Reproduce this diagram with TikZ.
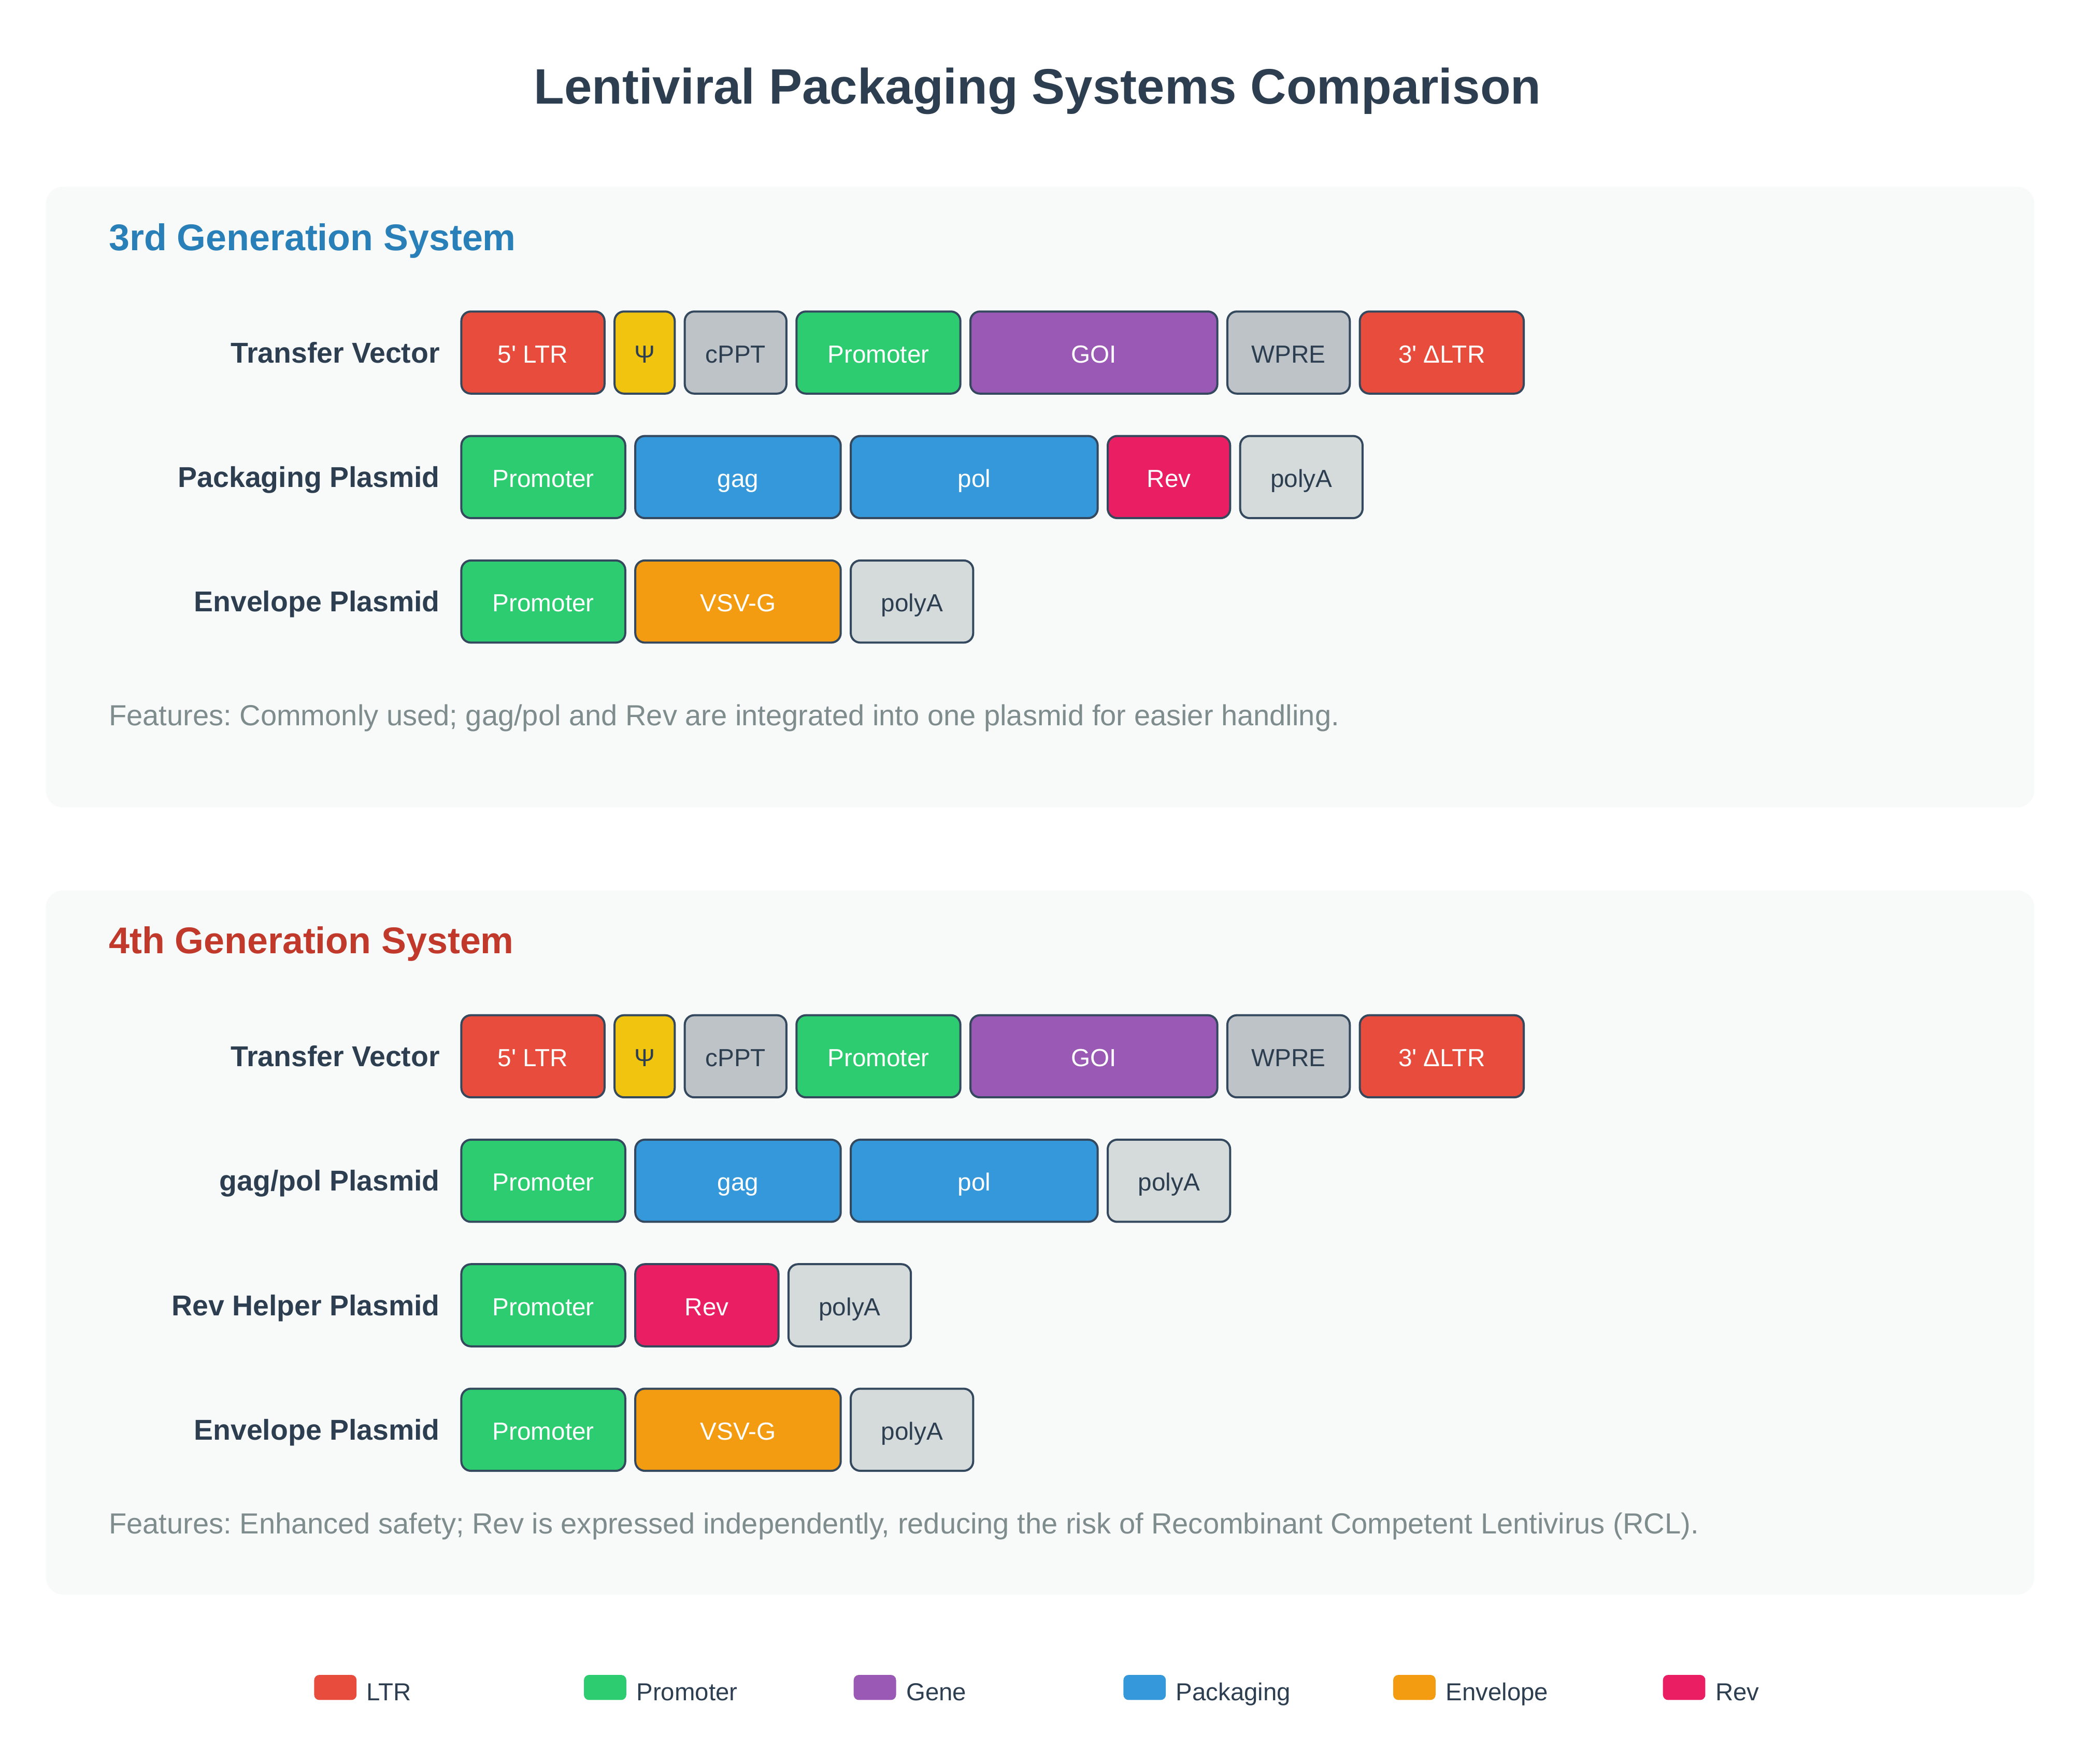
\documentclass[tikz,border=0pt]{standalone}
\usepackage{fontspec}
\setmainfont{Liberation Sans}
\usepackage{tikz}
\usetikzlibrary{positioning}
\frenchspacing
\definecolor{ink}{HTML}{2C3E50}
\definecolor{edge}{HTML}{34495E}
\definecolor{panelbg}{HTML}{F8F9F9}
\definecolor{thirdblue}{HTML}{2980B9}
\definecolor{fourthred}{HTML}{C0392B}
\definecolor{featgray}{HTML}{7F8C8D}
\definecolor{ltr}{HTML}{E74C3C}
\definecolor{psi}{HTML}{F1C40F}
\definecolor{element}{HTML}{BDC3C7}
\definecolor{promoter}{HTML}{2ECC71}
\definecolor{gene}{HTML}{9B59B6}
\definecolor{packaging}{HTML}{3498DB}
\definecolor{rev}{HTML}{E91E63}
\definecolor{envelope}{HTML}{F39C12}
\definecolor{polya}{HTML}{D5DBDB}
\tikzset{
  seg/.style={draw=edge, line width=1.2pt, rounded corners=5.5pt, minimum height=47.5pt,
    inner sep=0pt, text height=11.8pt, text depth=0pt, anchor=west,
    font=\fontsize{14.3}{16}\selectfont},
  light/.style={seg, text=white},
  dark/.style={seg, text=ink},
  gap/.style={right=4.6pt of #1},
  rowlabel/.style={anchor=east, inner sep=0pt, text height=11.8pt, text depth=0pt,
    text=ink, font=\fontsize{16.6}{19}\selectfont\bfseries},
  sectitle/.style={anchor=base west, inner sep=0pt, font=\fontsize{21.5}{26}\selectfont\bfseries},
  feature/.style={anchor=base west, inner sep=0pt, text=featgray, font=\fontsize{16.8}{19}\selectfont},
  key/.style={anchor=north west, rounded corners=3pt, minimum width=24.5pt, minimum height=14.5pt, inner sep=0pt},
  keytext/.style={anchor=base west, inner sep=0pt, text=ink, font=\fontsize{14.2}{16}\selectfont}
}

\begin{document}
\begin{tikzpicture}[x=1pt, y=-1pt]
  \useasboundingbox (0,0) rectangle (1200,1020);
  \fill[white] (0,0) rectangle (1200,1020);

  \node[anchor=base, inner sep=0pt, text=ink, font=\fontsize{28.8}{34}\selectfont\bfseries] (title) at (600,60) {Lentiviral Packaging Systems Comparison};

  % 3rd generation
  \fill[panelbg, rounded corners=10pt] (26.5,108) rectangle (1176.5,467);
  \node[sectitle, text=thirdblue] (gen3) at (62.8,145) {3rd Generation System};

  \node[rowlabel] (t3lab) at (254.5,203.9) {Transfer Vector};
  \node[light, fill=ltr, minimum width=82.8pt] (t3ltr) at (266.2,203.9) {5\textquotesingle{} LTR};
  \node[dark, fill=psi, minimum width=34.8pt, gap=t3ltr] (t3psi) {Ψ};
  \node[dark, fill=element, minimum width=58.8pt, gap=t3psi] (t3cppt) {cPPT};
  \node[light, fill=promoter, minimum width=94.8pt, gap=t3cppt] (t3prom) {Promoter};
  \node[light, fill=gene, minimum width=142.8pt, gap=t3prom] (t3goi) {GOI};
  \node[dark, fill=element, minimum width=70.8pt, gap=t3goi] (t3wpre) {WPRE};
  \node[light, fill=ltr, minimum width=94.8pt, gap=t3wpre] (t3ltr3) {3\textquotesingle{} ΔLTR};

  \node[rowlabel] (p3lab) at (254.5,275.9) {Packaging Plasmid};
  \node[light, fill=promoter, minimum width=94.8pt] (p3prom) at (266.2,275.9) {Promoter};
  \node[light, fill=packaging, minimum width=118.8pt, gap=p3prom] (p3gag) {gag};
  \node[light, fill=packaging, minimum width=142.8pt, gap=p3gag] (p3pol) {pol};
  \node[light, fill=rev, minimum width=70.8pt, gap=p3pol] (p3rev) {Rev};
  \node[dark, fill=polya, minimum width=70.8pt, gap=p3rev] (p3pa) {polyA};

  \node[rowlabel] (e3lab) at (254.5,347.9) {Envelope Plasmid};
  \node[light, fill=promoter, minimum width=94.8pt] (e3prom) at (266.2,347.9) {Promoter};
  \node[light, fill=envelope, minimum width=118.8pt, gap=e3prom] (e3vsv) {VSV-G};
  \node[dark, fill=polya, minimum width=70.8pt, gap=e3vsv] (e3pa) {polyA};

  \node[feature] (f3) at (62.8,419.5) {Features: Commonly used; gag/pol and Rev are integrated into one plasmid for easier handling.};

  % 4th generation
  \fill[panelbg, rounded corners=10pt] (26.5,515) rectangle (1176.5,922.2);
  \node[sectitle, text=fourthred] (gen4) at (62.8,551.5) {4th Generation System};

  \node[rowlabel] (t4lab) at (254.5,610.9) {Transfer Vector};
  \node[light, fill=ltr, minimum width=82.8pt] (t4ltr) at (266.2,610.9) {5\textquotesingle{} LTR};
  \node[dark, fill=psi, minimum width=34.8pt, gap=t4ltr] (t4psi) {Ψ};
  \node[dark, fill=element, minimum width=58.8pt, gap=t4psi] (t4cppt) {cPPT};
  \node[light, fill=promoter, minimum width=94.8pt, gap=t4cppt] (t4prom) {Promoter};
  \node[light, fill=gene, minimum width=142.8pt, gap=t4prom] (t4goi) {GOI};
  \node[dark, fill=element, minimum width=70.8pt, gap=t4goi] (t4wpre) {WPRE};
  \node[light, fill=ltr, minimum width=94.8pt, gap=t4wpre] (t4ltr3) {3\textquotesingle{} ΔLTR};

  \node[rowlabel] (g4lab) at (254.5,682.9) {gag/pol Plasmid};
  \node[light, fill=promoter, minimum width=94.8pt] (g4prom) at (266.2,682.9) {Promoter};
  \node[light, fill=packaging, minimum width=118.8pt, gap=g4prom] (g4gag) {gag};
  \node[light, fill=packaging, minimum width=142.8pt, gap=g4gag] (g4pol) {pol};
  \node[dark, fill=polya, minimum width=70.8pt, gap=g4pol] (g4pa) {polyA};

  \node[rowlabel] (r4lab) at (254.5,754.9) {Rev Helper Plasmid};
  \node[light, fill=promoter, minimum width=94.8pt] (r4prom) at (266.2,754.9) {Promoter};
  \node[light, fill=rev, minimum width=82.8pt, gap=r4prom] (r4rev) {Rev};
  \node[dark, fill=polya, minimum width=70.8pt, gap=r4rev] (r4pa) {polyA};

  \node[rowlabel] (e4lab) at (254.5,826.9) {Envelope Plasmid};
  \node[light, fill=promoter, minimum width=94.8pt] (e4prom) at (266.2,826.9) {Promoter};
  \node[light, fill=envelope, minimum width=118.8pt, gap=e4prom] (e4vsv) {VSV-G};
  \node[dark, fill=polya, minimum width=70.8pt, gap=e4vsv] (e4pa) {polyA};

  \node[feature] (f4) at (62.8,887) {Features: Enhanced safety; Rev is expressed independently, reducing the risk of Recombinant Competent Lentivirus (RCL).};

  % legend
  \node[key, fill=ltr] (kltr) at (181.5,968.5) {};
  \node[keytext] at ([xshift=5.5pt]kltr.south east) {LTR};
  \node[key, fill=promoter] (kprom) at (337.5,968.5) {};
  \node[keytext] at ([xshift=5.5pt]kprom.south east) {Promoter};
  \node[key, fill=gene] (kgene) at (493.5,968.5) {};
  \node[keytext] at ([xshift=5.5pt]kgene.south east) {Gene};
  \node[key, fill=packaging] (kpack) at (649.5,968.5) {};
  \node[keytext] at ([xshift=5.5pt]kpack.south east) {Packaging};
  \node[key, fill=envelope] (kenv) at (805.5,968.5) {};
  \node[keytext] at ([xshift=5.5pt]kenv.south east) {Envelope};
  \node[key, fill=rev] (krev) at (961.5,968.5) {};
  \node[keytext] at ([xshift=5.5pt]krev.south east) {Rev};
\end{tikzpicture}
\end{document}
